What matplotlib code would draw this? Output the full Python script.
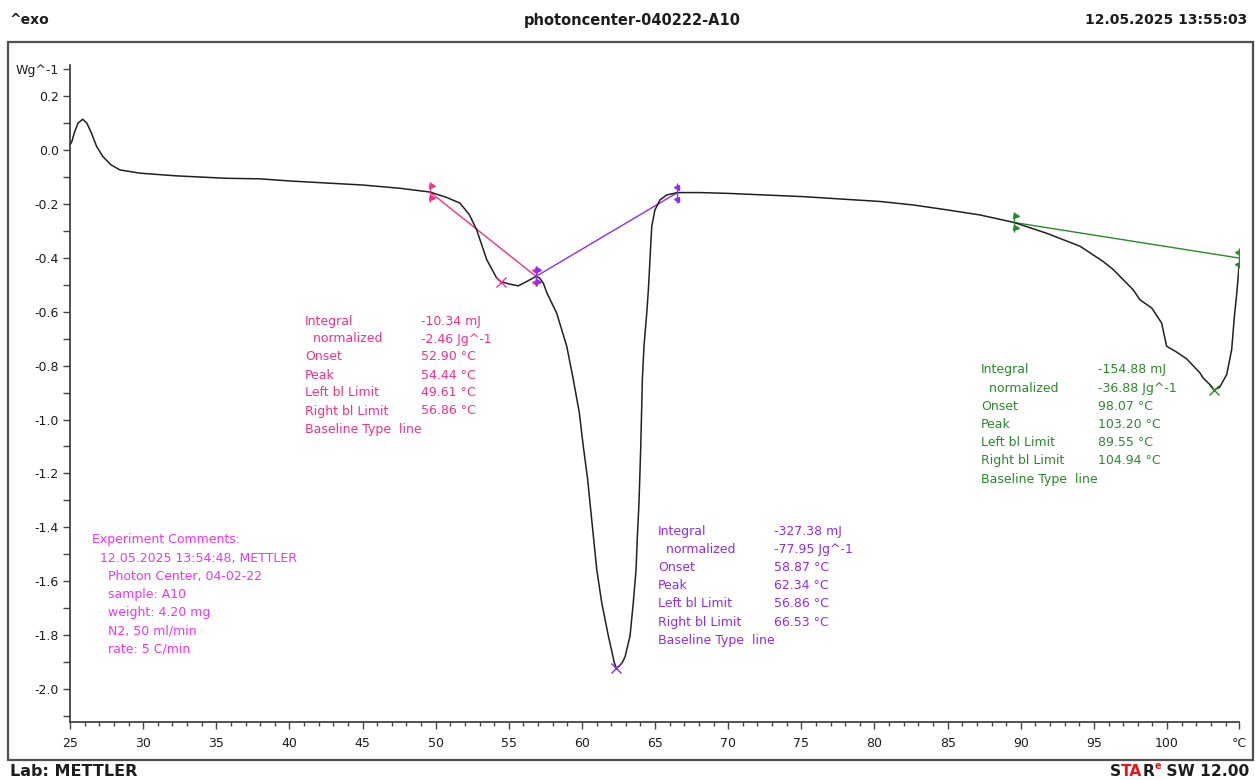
import matplotlib
matplotlib.use("Agg")
import matplotlib.pyplot as plt
from matplotlib.patches import Rectangle
from matplotlib.transforms import offset_copy
import numpy as np

# ---- DSC curve: temperature (°C) and heat flow (W/g) ----
temperature = [25.00, 25.12, 25.30, 25.55, 25.87, 26.15, 26.45, 26.83, 27.26, 27.80,
               28.42, 29.79, 32.29, 35.71, 37.99, 40.04, 45.03, 47.56, 49.61, 50.70,
               51.66, 52.30, 52.80, 53.49, 54.17, 54.44, 55.00, 55.65, 56.22, 56.86,
               57.10, 57.36, 57.60, 58.27, 58.96, 59.41, 59.82, 60.09, 60.39, 60.55,
               60.78, 61.01, 61.35, 61.80, 62.05, 62.20, 62.34, 62.55, 62.75, 62.95,
               63.29, 63.51, 63.70, 63.79, 63.90, 64.02, 64.13, 64.24, 64.43, 64.54,
               64.65, 64.77, 64.99, 65.34, 65.79, 66.53, 68.07, 70.00, 75.11, 80.38,
               82.65, 84.94, 87.21, 89.55, 91.77, 94.05, 95.64, 96.33, 96.78, 97.69,
               98.15, 98.95, 99.63, 99.97, 100.66, 101.34, 102.25, 102.47, 103.05,
               103.20, 103.60, 104.08, 104.42, 104.60, 104.77, 104.94]
heat_flow = [0.020, 0.030, 0.065, 0.100, 0.114, 0.100, 0.065, 0.012, -0.025, -0.055,
             -0.074, -0.086, -0.096, -0.105, -0.107, -0.115, -0.130, -0.142, -0.156, -0.175,
             -0.197, -0.240, -0.296, -0.407, -0.475, -0.488, -0.497, -0.504, -0.488, -0.469,
             -0.475, -0.494, -0.530, -0.605, -0.728, -0.852, -0.975, -1.099, -1.222, -1.309,
             -1.432, -1.556, -1.679, -1.802, -1.862, -1.900, -1.922, -1.915, -1.903, -1.880,
             -1.802, -1.679, -1.556, -1.432, -1.309, -1.099, -0.852, -0.728, -0.605, -0.520,
             -0.407, -0.284, -0.222, -0.185, -0.167, -0.158, -0.158, -0.161, -0.173, -0.191,
             -0.204, -0.222, -0.241, -0.269, -0.309, -0.357, -0.414, -0.444, -0.469, -0.519,
             -0.556, -0.586, -0.642, -0.728, -0.750, -0.775, -0.827, -0.846, -0.877,
             -0.891, -0.880, -0.833, -0.740, -0.620, -0.530, -0.420]

# ---- evaluation results ----
pink_limits = [49.61, 56.86]
pink_limit_flow = [-0.156, -0.469]
pink_peak = (54.44, -0.488)
purple_limits = [56.86, 66.53]
purple_limit_flow = [-0.469, -0.158]
purple_peak = (62.34, -1.922)
green_limits = [89.55, 104.94]
green_limit_flow = [-0.269, -0.401]
green_peak = (103.20, -0.891)

pink_labels = ["Integral", "  normalized", "Onset", "Peak", "Left bl Limit", "Right bl Limit"]
pink_values = ["-10.34 mJ", "-2.46 Jg^-1", "52.90 °C", "54.44 °C", "49.61 °C", "56.86 °C"]
purple_labels = pink_labels
purple_values = ["-327.38 mJ", "-77.95 Jg^-1", "58.87 °C", "62.34 °C", "56.86 °C", "66.53 °C"]
green_labels = pink_labels
green_values = ["-154.88 mJ", "-36.88 Jg^-1", "98.07 °C", "103.20 °C", "89.55 °C", "104.94 °C"]
baseline_line = "Baseline Type  line"

comments = ["Experiment Comments:",
            "  12.05.2025 13:54:48, METTLER",
            "    Photon Center, 04-02-22",
            "    sample: A10",
            "    weight: 4.20 mg",
            "    N2, 50 ml/min",
            "    rate: 5 C/min"]

x_major = [25, 30, 35, 40, 45, 50, 55, 60, 65, 70, 75, 80, 85, 90, 95, 100]
x_end = 104.94
y_ticks = [round(v, 1) for v in np.arange(-2.1, 0.31, 0.1)]

PINK = "#F2308C"
PURPLE = "#8E2CF2"
GREEN = "#2A8A2A"
MAGENTA = "#F034F0"
INK = "#1c1c1c"

W, H = 1255, 780
plt.rcParams["font.family"] = ["DejaVu Sans"]
plt.rcParams["axes.unicode_minus"] = False

fig = plt.figure(figsize=(W / 100, H / 100), dpi=100)
fig.patch.set_facecolor("white")


def fx(x):
    return x / W


def fy(y):
    return 1 - y / H


# outer frame
fig.add_artist(Rectangle((fx(8), fy(760)), fx(1253) - fx(8), fy(42) - fy(760),
                         transform=fig.transFigure, fill=False,
                         edgecolor="#505050", linewidth=1.6))

ax = fig.add_axes([fx(70), fy(722), fx(1239.3) - fx(70), fy(65) - fy(722)])
ax.set_xlim(25, x_end)
ax.set_ylim(-2.1224, 0.3154)
for side in ("top", "right"):
    ax.spines[side].set_visible(False)
for side in ("left", "bottom"):
    ax.spines[side].set_color("#444444")
    ax.spines[side].set_linewidth(1.3)

ax.set_xticks(x_major + [x_end])
ax.set_xticklabels([str(v) for v in x_major] + ["°C"])
ax.set_xticks(np.arange(26, 105, 1), minor=True)


def ylab(v):
    if abs(v - 0.3) < 1e-6:
        return "Wg^-1"
    if int(round(v * 10)) % 2 == 0:
        return f"{v:.1f}".replace("-0.0", "0.0")
    return ""


ax.set_yticks(y_ticks)
ax.set_yticklabels([ylab(v) for v in y_ticks])
ax.tick_params(axis="both", which="major", direction="out", length=5, width=1,
               color="#444444", labelcolor=INK, labelsize=9)
ax.tick_params(axis="x", which="major", pad=6)
ax.tick_params(axis="y", which="major", pad=3)
ax.tick_params(axis="x", which="minor", direction="out", length=3, width=1,
               color="#444444")

# curve
ax.plot(temperature, heat_flow, color="#202020", linewidth=1.1, zorder=3)

# baselines
ax.plot(pink_limits, pink_limit_flow, color=PINK, linewidth=1.0, zorder=2)
ax.plot(purple_limits, purple_limit_flow, color=PURPLE, linewidth=1.0, zorder=2)
ax.plot(green_limits, green_limit_flow, color=GREEN, linewidth=1.0, zorder=2)


def flags(x, y, color, pointing):
    marker = ">" if pointing == "right" else "<"
    dx = 1.8 if pointing == "right" else -1.8
    bar = offset_copy(ax.transData, fig=fig, x=0, y=0, units="dots")
    up = offset_copy(ax.transData, fig=fig, x=dx, y=6, units="dots")
    dn = offset_copy(ax.transData, fig=fig, x=dx, y=-6, units="dots")
    ax.plot([x], [y], marker="|", markersize=14, markeredgewidth=1.0,
            color=color, transform=bar, zorder=4)
    ax.plot([x], [y], marker=marker, markersize=3.6, color=color,
            linestyle="none", transform=up, zorder=4)
    ax.plot([x], [y], marker=marker, markersize=3.6, color=color,
            linestyle="none", transform=dn, zorder=4)


flags(pink_limits[0], pink_limit_flow[0], PINK, "right")
flags(pink_limits[1], pink_limit_flow[1], PINK, "left")
flags(purple_limits[0], purple_limit_flow[0], PURPLE, "right")
flags(purple_limits[1], purple_limit_flow[1], PURPLE, "left")
flags(green_limits[0], green_limit_flow[0], GREEN, "right")
flags(green_limits[1], green_limit_flow[1], GREEN, "left")

for (px_, py_), c in ((pink_peak, PINK), (purple_peak, PURPLE), (green_peak, GREEN)):
    ax.plot([px_], [py_], marker="x", markersize=7, markeredgewidth=1.0,
            color=c, linestyle="none", zorder=4)


def block(x_label, x_value, y_top, step, labels, values, color):
    y = y_top
    for lab, val in zip(labels, values):
        fig.text(fx(x_label), fy(y), lab, color=color, fontsize=9, va="center", ha="left")
        fig.text(fx(x_value), fy(y), val, color=color, fontsize=9, va="center", ha="left")
        y += step
    fig.text(fx(x_label), fy(y), baseline_line, color=color, fontsize=9,
             va="center", ha="left")


block(305, 421, 321, 18.0, pink_labels, pink_values, PINK)
block(658, 774, 531, 18.2, purple_labels, purple_values, PURPLE)
block(981, 1098, 370, 18.2, green_labels, green_values, GREEN)

for i, line in enumerate(comments):
    fig.text(fx(92), fy(540 + 18.2 * i), line, color=MAGENTA, fontsize=9,
             va="center", ha="left")

# header
fig.text(fx(10), fy(20), "^exo", fontsize=10, fontweight="bold", color=INK,
         va="center", ha="left")
fig.text(fx(632), fy(20), "photoncenter-040222-A10", fontsize=10.5, fontweight="bold",
         color=INK, va="center", ha="center")
fig.text(fx(1247), fy(20), "12.05.2025 13:55:03", fontsize=10, fontweight="bold",
         color=INK, va="center", ha="right")

# footer
fig.text(fx(10), fy(772), "Lab: METTLER", fontsize=11.5, fontweight="bold", color=INK,
         va="center", ha="left")

renderer = fig.canvas.get_renderer()
x_cursor = 1110
pieces = [("S", INK, 11.2, 772), ("TA", "#E8161A", 11.2, 772), ("R", INK, 11.2, 772),
          ("e", "#E8161A", 7, 766), (" SW 12.00", INK, 11.2, 772)]
for txt, col, size, ypx in pieces:
    t = fig.text(fx(x_cursor), fy(ypx), txt, fontsize=size, fontweight="bold",
                 color=col, va="center", ha="left")
    bb = t.get_window_extent(renderer)
    x_cursor = bb.x1

fig.savefig("out.png", dpi=100, facecolor="white")
